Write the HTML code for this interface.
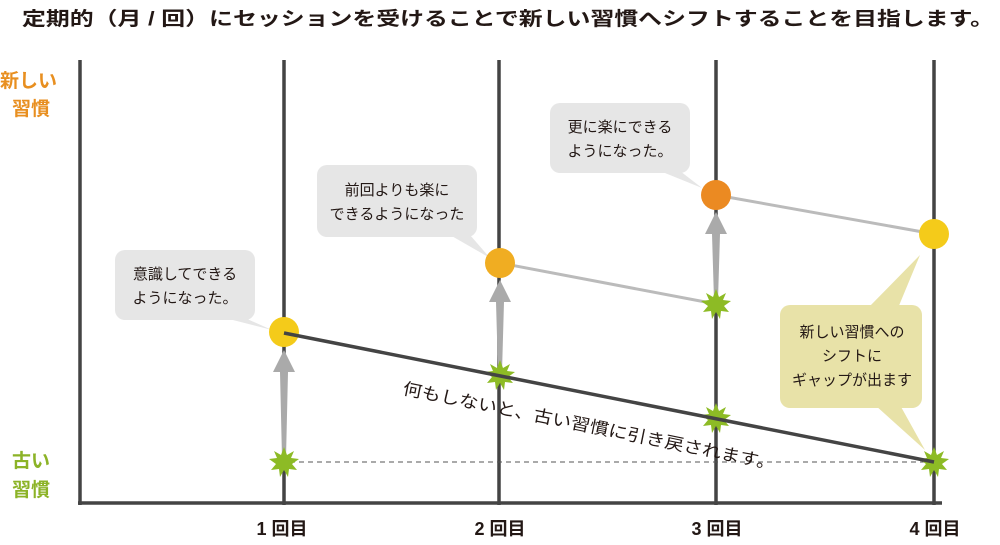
<!DOCTYPE html>
<html><head><meta charset="utf-8"><style>
html,body{margin:0;padding:0;background:#fff;}
svg{display:block;font-family:"Liberation Sans","Noto Sans CJK JP",sans-serif;}
</style></head><body>
<svg width="1000" height="545" viewBox="0 0 1000 545" xmlns="http://www.w3.org/2000/svg">
<defs>
<g id="star"><polygon points="0,-15 3,-7 10,-11 7,-4 15,-3 8,2 13,8 5,7 4,15 0,8 -4,15 -5,7 -13,8 -8,2 -15,-3 -7,-4 -10,-11 -3,-7" fill="#8dbb25"/></g>
</defs>
<text x="22" y="25" font-size="19" font-weight="bold" fill="#231815" textLength="972" lengthAdjust="spacingAndGlyphs">定期的（月 / 回）にセッションを受けることで新しい習慣へシフトすることを目指します。</text>
<text x="0" y="87" font-size="19" font-weight="bold" fill="#e88f20">新しい</text>
<text x="12" y="115" font-size="19" font-weight="bold" fill="#e88f20">習慣</text>
<text x="12" y="467" font-size="19" font-weight="bold" fill="#8cb327">古い</text>
<text x="12" y="496" font-size="19" font-weight="bold" fill="#8cb327">習慣</text>
<g stroke="#444" stroke-width="3.5">
<line x1="80" y1="60" x2="80" y2="505"/>
<line x1="78" y1="503" x2="942" y2="503"/>
<line x1="284" y1="60" x2="284" y2="505"/>
<line x1="499" y1="60" x2="499" y2="505"/>
<line x1="716" y1="60" x2="716" y2="505"/>
<line x1="934" y1="60" x2="934" y2="505"/>
</g>
<g font-size="18" font-weight="bold" fill="#231815" text-anchor="middle">
<text x="282" y="535">1 回目</text><text x="500" y="535">2 回目</text><text x="717" y="535">3 回目</text><text x="935" y="535">4 回目</text>
</g>
<line x1="290" y1="462" x2="930" y2="462" stroke="#555" stroke-width="1" stroke-dasharray="5,4"/>
<g fill="#e6e6e6">
<rect x="115" y="250" width="140" height="70" rx="10"/><polygon points="225,318 245,318 272,330"/>
<rect x="317" y="165" width="160" height="72" rx="10"/><polygon points="450,235 470,235 490,258"/>
<rect x="550" y="103" width="140" height="70" rx="10"/><polygon points="660,171 680,171 702,188"/>
</g>
<g fill="#e8e2a8">
<rect x="780" y="305" width="142" height="103" rx="10"/>
<polygon points="868,308 898,308 920,255"/><polygon points="875,405 900,405 925,450"/>
</g>
<g font-size="15" fill="#231815" text-anchor="middle">
<text x="185" y="279">意識してできる</text><text x="185" y="303">ようになった。</text>
<text x="397" y="195">前回よりも楽に</text><text x="397" y="219">できるようになった</text>
<text x="620" y="132">更に楽にできる</text><text x="620" y="156">ようになった。</text>
<text x="852" y="337">新しい習慣への</text><text x="852" y="361">シフトに</text><text x="852" y="385">ギャップが出ます</text>
</g>
<g fill="#aaa">
<polygon points="284,350 295,372 288,372 286,458 282,458 280,372 273,372"/>
<polygon points="500,280 511,302 504,302 502,372 498,372 496,302 489,302"/>
<polygon points="716,212 727,234 720,234 718,300 714,300 712,234 705,234"/>
</g>
<line x1="500" y1="263" x2="716" y2="304" stroke="#bbb" stroke-width="3"/>
<line x1="716" y1="195" x2="934" y2="234" stroke="#bbb" stroke-width="3"/>
<use href="#star" x="284" y="462"/><use href="#star" x="500" y="375"/><use href="#star" x="716" y="304"/><use href="#star" x="716" y="418"/><use href="#star" x="934" y="462"/>
<circle cx="284" cy="332" r="15" fill="#f4cb1a"/>
<circle cx="500" cy="263" r="15" fill="#f0ad22"/>
<circle cx="716" cy="195" r="15" fill="#eb8a22"/>
<circle cx="934" cy="234" r="15" fill="#f4cb1a"/>
<line x1="284" y1="333" x2="934" y2="462" stroke="#444" stroke-width="3.5"/>
<text x="0" y="0" font-size="17" fill="#231815" transform="translate(402,394) rotate(11.5)" textLength="380" lengthAdjust="spacingAndGlyphs">何もしないと、古い習慣に引き戻されます。</text>
</svg>
</body></html>
